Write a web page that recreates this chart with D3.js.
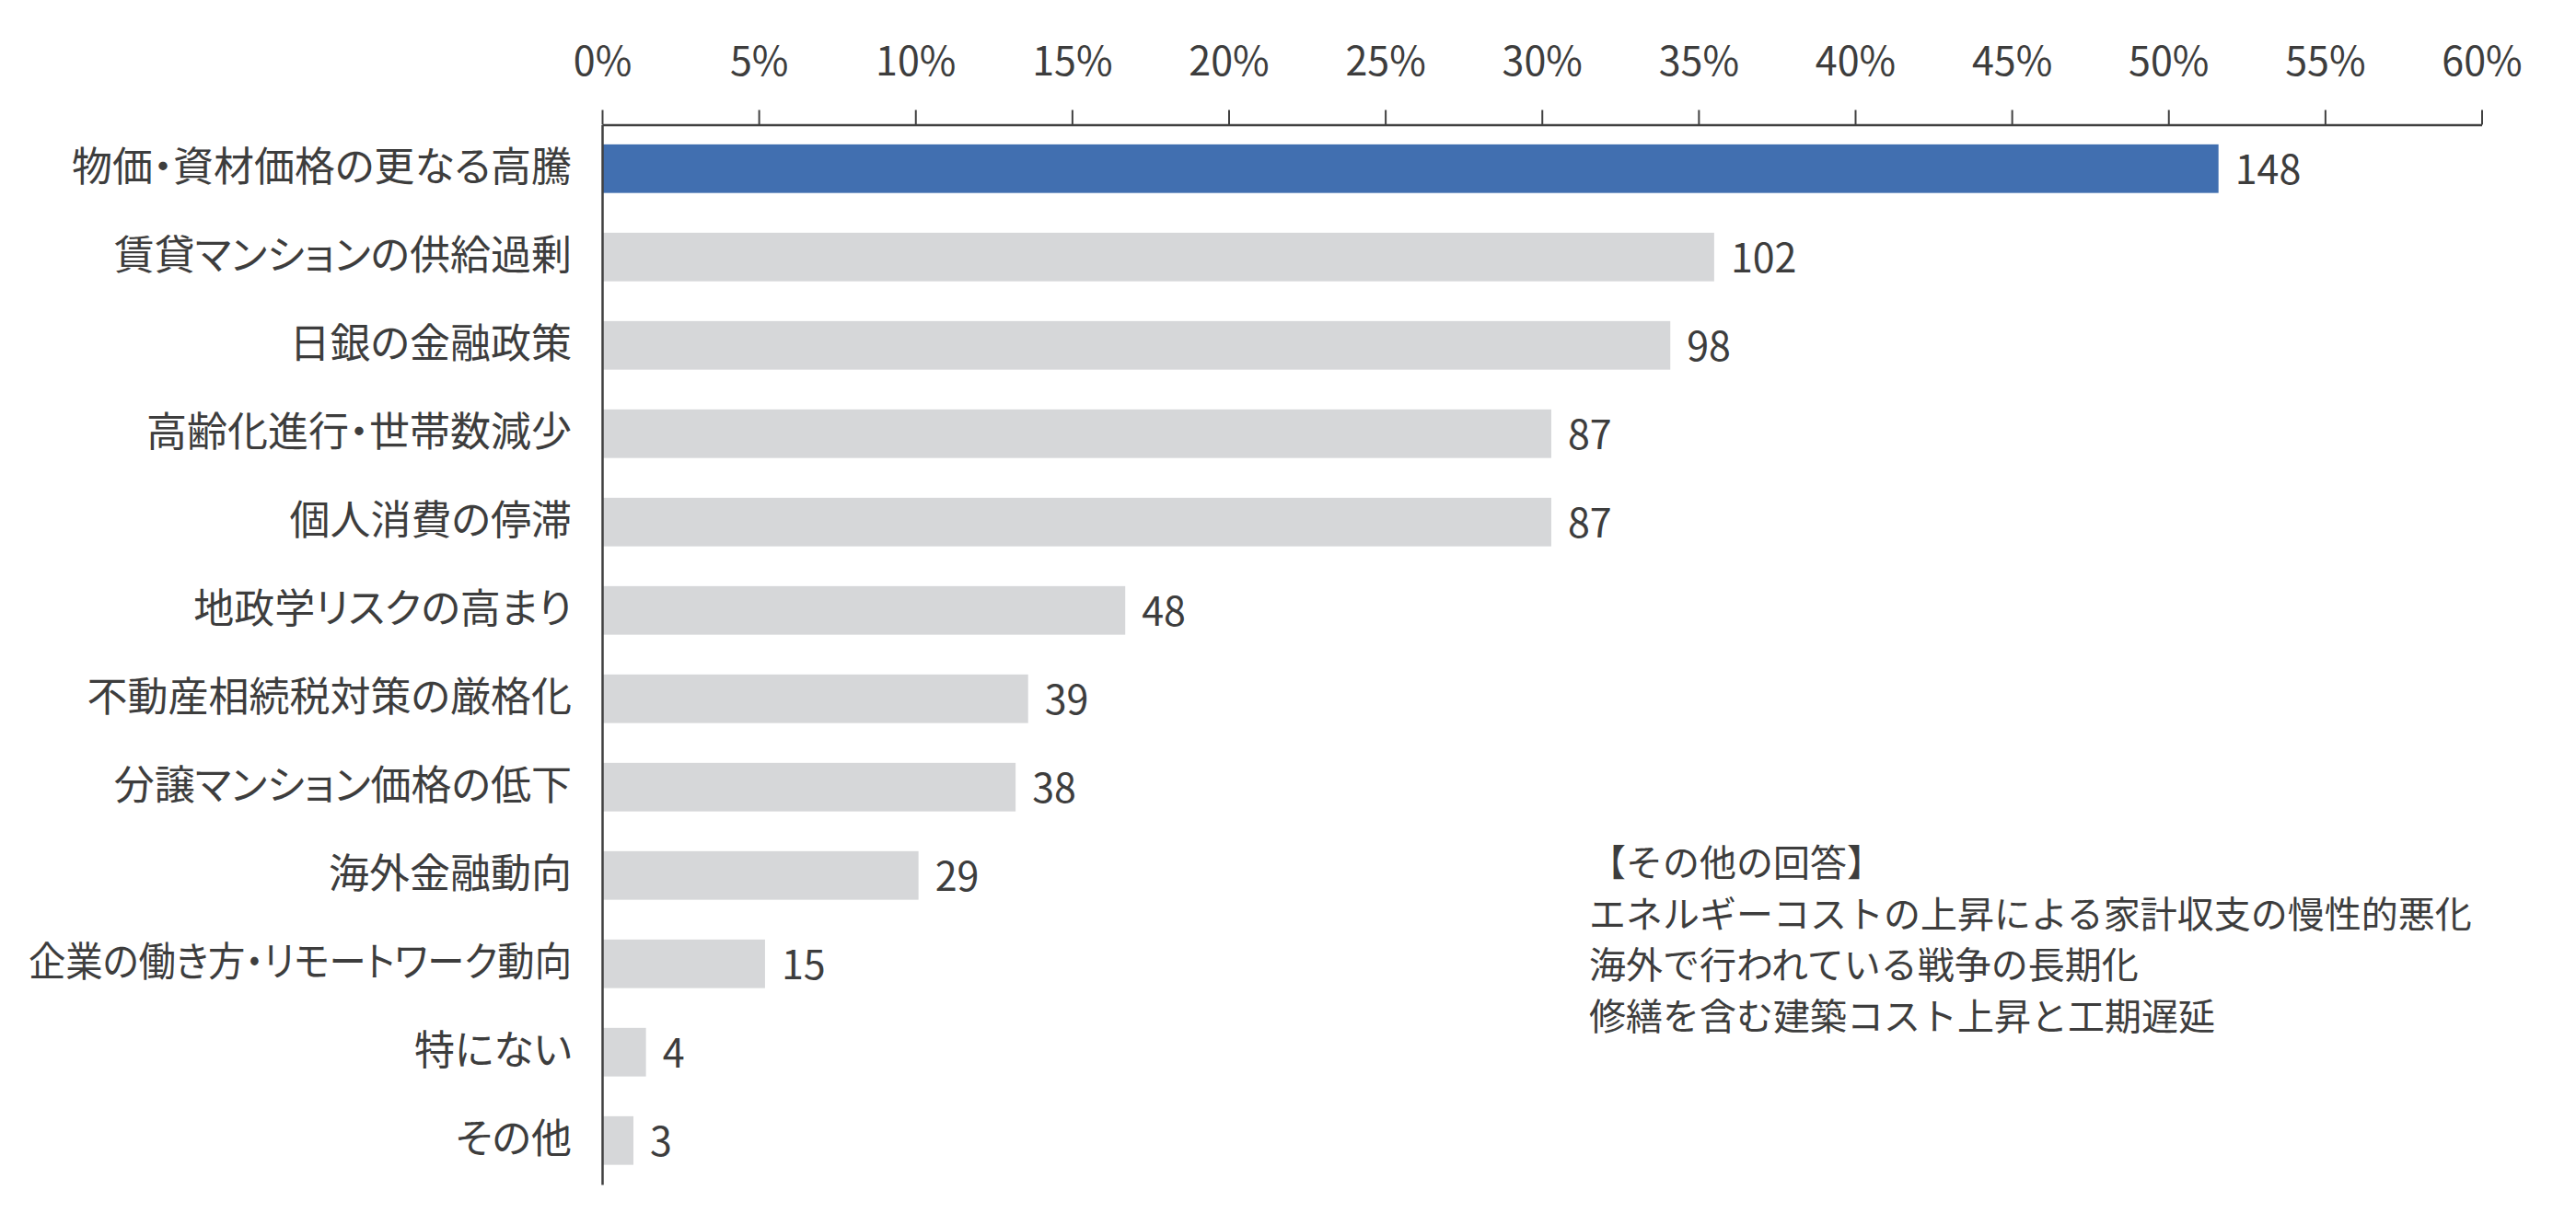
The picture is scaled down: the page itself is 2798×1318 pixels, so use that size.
<!DOCTYPE html>
<html lang="ja">
<head>
	<meta charset="utf-8">
	<title>Bar chart</title>
	<script src="https://cdn.jsdelivr.net/npm/d3@7"></script>
	<style>
		body { margin: 0; background: #fff; }
		text { font-family: "Noto Sans CJK JP", "Noto Sans", sans-serif; fill: #3d3d3d; }
	</style>
</head>
<body>
	<script>
		// data
		var categories = ["物価・資材価格の更なる高騰", "賃貸マンションの供給過剰", "日銀の金融政策", "高齢化進行・世帯数減少",
			"個人消費の停滞", "地政学リスクの高まり", "不動産相続税対策の厳格化", "分譲マンション価格の低下",
			"海外金融動向", "企業の働き方・リモートワーク動向", "特にない", "その他"];
		var counts = [148, 102, 98, 87, 87, 48, 39, 38, 29, 15, 4, 3];
		var percents = [51.6, 35.5, 34.1, 30.3, 30.3, 16.7, 13.6, 13.2, 10.1, 5.2, 1.4, 1.0];
		var tickValues = [0, 5, 10, 15, 20, 25, 30, 35, 40, 45, 50, 55, 60];
		var otherAnswers = ["【その他の回答】", "エネルギーコストの上昇による家計収支の慢性的悪化",
			"海外で行われている戦争の長期化", "修繕を含む建築コスト上昇と工期遅延"];

		var w = 2798, h = 1318;
		var svg = d3.select("body").append("svg").attr("width", w).attr("height", h);

		var x = d3.scaleLinear().domain([0, 60]).range([654, 2695.5]);
		var y = d3.scaleBand().domain(categories).range([135.5, 1287])
			.paddingInner(0.45).paddingOuter(0.2225);

		// bars
		svg.selectAll("rect.bar")
			.data(categories)
			.enter()
			.append("rect")
			.attr("class", "bar")
			.attr("x", x(0))
			.attr("y", function(d) { return y(d); })
			.attr("width", function(d, i) { return x(percents[i]) - x(0); })
			.attr("height", y.bandwidth())
			.attr("fill", function(d, i) { return i == 0 ? "#416fb0" : "#d6d7d9"; });

		// value labels
		svg.selectAll("text.val")
			.data(categories)
			.enter()
			.append("text")
			.attr("class", "val")
			.attr("x", function(d, i) { return x(percents[i]) + 18; })
			.attr("y", function(d) { return y(d) + y.bandwidth() / 2 - 2; })
			.attr("dominant-baseline", "central")
			.attr("font-size", "43px")
			.text(function(d, i) { return counts[i]; });

		// top axis
		var xAxis = d3.axisTop(x).tickValues(tickValues).tickSize(16).tickSizeOuter(0).tickPadding(38)
			.tickFormat(function(d) { return d + "%"; });
		var gx = svg.append("g").attr("transform", "translate(0,135.5)").call(xAxis);
		gx.select(".domain").attr("stroke", "#404040").attr("stroke-width", 2.5);
		gx.selectAll(".tick line").attr("stroke", "#404040").attr("stroke-width", 2);
		gx.selectAll(".tick text").attr("font-size", "43px").attr("fill", "#3d3d3d")
			.style("font-family", "'Noto Sans CJK JP', sans-serif");

		// left axis with category labels (proportional kana like the original)
		var yAxis = d3.axisLeft(y).tickSize(0).tickSizeOuter(0).tickPadding(33);
		var gy = svg.append("g").attr("transform", "translate(" + x(0) + ",0)").call(yAxis);
		gy.select(".domain").attr("stroke", "#404040").attr("stroke-width", 2.5);
		var maxLabel = 590;
		gy.selectAll(".tick text").attr("font-size", "44px").attr("fill", "#3d3d3d")
			.style("font-family", "'Noto Sans CJK JP', sans-serif")
			.style("font-feature-settings", "'palt'")
			.each(function() {
				// squeeze a label that would run past the left edge
				if (this.getComputedTextLength() > maxLabel) {
					d3.select(this).attr("textLength", maxLabel).attr("lengthAdjust", "spacingAndGlyphs");
				}
			});

		// note block
		svg.selectAll("text.note")
			.data(otherAnswers)
			.enter()
			.append("text")
			.attr("class", "note")
			.attr("x", 1726)
			.attr("y", function(d, i) { return 935 + i * 55.5; })
			.attr("dominant-baseline", "central")
			.attr("font-size", "40px")
			.text(function(d) { return d; });
	</script>
</body>
</html>
